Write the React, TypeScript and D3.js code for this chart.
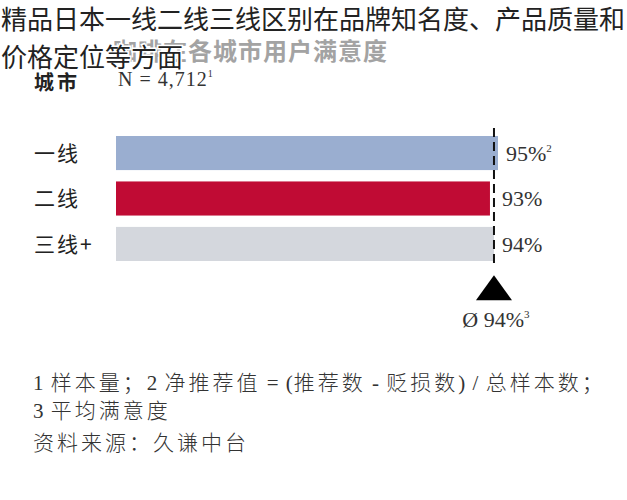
import * as d3 from 'd3';

const categories = ['一线', '二线', '三线+'];
const values = [95, 93, 94];
const valueLabels = ['95%', '93%', '94%'];
const valueSups = ['2', '', ''];
const barColors = ['#9aaed0', '#c00b34', '#d4d7dd'];
const average = 94;
const averageLabel = 'Ø 94%';

const titleLines = ['精品日本一线二线三线区别在品牌知名度、产品质量和', '价格定位等方面'];
const subtitle = '咖啡在各城市用户满意度';
const footnotes = ['1 样本量；2 净推荐值 = (推荐数 - 贬损数) / 总样本数；', '3 平均满意度', '资料来源：久谦中台'];

const serif = '"Liberation Serif", "Noto Sans CJK SC", serif';
const cjk = '"Noto Sans CJK SC", sans-serif';

// wide spacing for CJK runs, tight for latin runs
const spaced = (s: string) =>
  s.split(/([\u3000-\u9fff\uff00-\uffef]+)/).filter(Boolean).map((part, i) => (
    <tspan key={i} letterSpacing={/[\u3000-\u9fff\uff00-\uffef]/.test(part) ? 3 : 1}>{part}</tspan>
  ));

const App = () => {
  const width = 627;
  const height = 500;
  const barLeft = 116;

  const xScale = d3.scaleLinear().domain([0, 95]).range([barLeft, 498]);
  const yScale = d3.scaleBand<string>()
    .domain(categories)
    .range([136, 261])
    .paddingInner(0.25)
    .paddingOuter(0);

  const [y0, y1] = yScale.range();
  const avgX = xScale(average);
  const tri = d3.symbol().type(d3.symbolTriangle).size(360)();

  return (
    <svg width={width} height={height} style={{ position: 'absolute', left: 0, top: 0, background: '#fff' }}>
      {/* faded subtitle behind the title */}
      <text x={113} y={60} fontFamily={cjk} fontWeight={700} fontSize={24} letterSpacing={1} fill="#a3a3a3">
        {subtitle}
      </text>
      {titleLines.map((t, i) => (
        <text
          key={t}
          x={1}
          y={29 + i * 38}
          fontFamily={cjk}
          fontSize={26}
          fill="#222"
          stroke="#fff"
          strokeWidth={3}
          style={{ paintOrder: 'stroke' }}
        >
          {t}
        </text>
      ))}

      <text x={34} y={90} fontFamily={cjk} fontWeight={700} fontSize={20} letterSpacing={3} fill="#222">城市</text>
      <text x={118} y={86} fontFamily={serif} fontSize={20} letterSpacing={1} fill="#333">
        N = 4,712<tspan fontSize={10} dy={-9}>1</tspan>
      </text>

      {categories.map((c, i) => (
        <g key={c}>
          <text
            x={34}
            y={yScale(c)! + yScale.bandwidth() / 2}
            dy="0.36em"
            fontFamily={cjk}
            fontSize={21}
            letterSpacing={2}
            fill="#222"
          >
            {c}
          </text>
          <rect
            x={barLeft}
            y={yScale(c)}
            width={xScale(values[i]) - barLeft}
            height={yScale.bandwidth()}
            fill={barColors[i]}
          />
        </g>
      ))}

      <line x1={avgX} x2={avgX} y1={y0 - 8} y2={y1 + 4} stroke="#111" strokeWidth={2} strokeDasharray="9,5" />

      {categories.map((c, i) => (
        <text
          key={c + 'v'}
          x={Math.max(xScale(values[i]), avgX) + 8}
          y={yScale(c)! + yScale.bandwidth() / 2}
          dy="0.35em"
          fontFamily={serif}
          fontSize={22}
          fill="#333"
        >
          {valueLabels[i]}
          {valueSups[i] && <tspan fontSize={11} dy={-9}>{valueSups[i]}</tspan>}
        </text>
      ))}

      <path d={tri!} transform={`translate(${avgX},${292}) scale(1.25,1)`} fill="#000" />
      <text x={avgX + 2} y={327} textAnchor="middle" fontFamily={serif} fontSize={22} fill="#333">
        {averageLabel}<tspan fontSize={11} dy={-9}>3</tspan>
      </text>

      {footnotes.map((f, i) => (
        <text
          key={f}
          x={33}
          y={[390, 418, 450][i]}
          fontFamily={serif}
          fontWeight={300}
          fontSize={21}
          fill="#333"
        >
          {spaced(f)}
        </text>
      ))}
    </svg>
  );
};

export default App;
